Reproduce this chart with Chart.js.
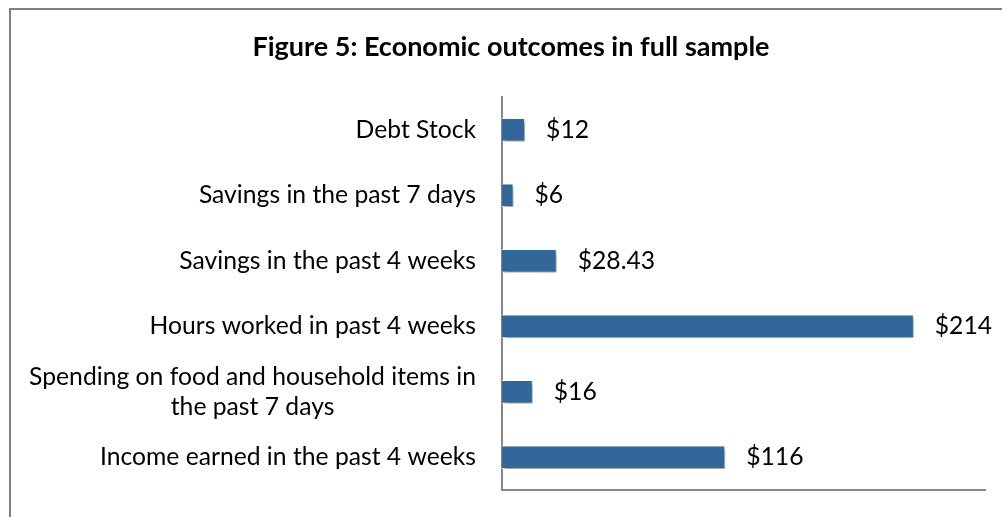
<!DOCTYPE html>
<html>
<head>
<meta charset="utf-8">
<script src="https://cdn.jsdelivr.net/npm/chart.js@4"></script>
<style>
    body { margin: 0; background: #fff; }
    #wrap { position: relative; width: 1002px; height: 517px; overflow: hidden; }
    #frame { position: absolute; left: 9px; top: 8px; width: 1100px; height: 600px;
             border-left: 2px solid #808080; border-top: 2px solid #808080; }
    canvas { position: absolute; left: 0; top: 0; }
</style>
</head>
<body>
<div id="wrap">
    <canvas id="barChart" width="1002" height="517"></canvas>
    <div id="frame"></div>
</div>
<script>
// グラフの値
var categories = [
    "Debt Stock",
    "Savings in the past 7 days",
    "Savings in the past 4 weeks",
    "Hours worked in past 4 weeks",
    ["Spending on food and household items in", "the past 7 days"],
    "Income earned in the past 4 weeks"
];
var values = [12, 6, 28.43, 214, 16, 116];
var valueLabels = ["$12", "$6", "$28.43", "$214", "$16", "$116"];
var titleText = "Figure 5: Economic outcomes in full sample";

var FONT = "Lato, 'Open Sans', sans-serif";
var LABEL_SIZE = 24.7;

// タイトルを描く
var titlePlugin = {
    id: "titlePlugin",
    afterDraw: function (chart) {
        var ctx = chart.ctx;
        ctx.save();
        ctx.fillStyle = "#000";
        ctx.font = "bold 27px " + FONT;
        ctx.textAlign = "center";
        ctx.textBaseline = "middle";
        ctx.fillText(titleText, 511, 47);
        ctx.restore();
    }
};

// カテゴリ名（右寄せ、複数行は中央揃え）
var categoryPlugin = {
    id: "categoryPlugin",
    afterDraw: function (chart) {
        var ctx = chart.ctx;
        var yScale = chart.scales.y;
        var right = chart.chartArea.left - 26;
        var lineHeight = 30;
        ctx.save();
        ctx.fillStyle = "#000";
        ctx.font = LABEL_SIZE + "px " + FONT;
        ctx.textBaseline = "middle";
        ctx.textAlign = "center";
        categories.forEach(function (label, i) {
            var lines = Array.isArray(label) ? label : [label];
            var widest = 0;
            lines.forEach(function (line) {
                widest = Math.max(widest, ctx.measureText(line).width);
            });
            var cx = right - widest / 2;
            var y0 = yScale.getPixelForTick(i) - (lines.length - 1) * lineHeight / 2;
            lines.forEach(function (line, j) {
                ctx.fillText(line, cx, y0 + j * lineHeight);
            });
        });
        ctx.restore();
    }
};

// 値ラベルと棒の影
var valuePlugin = {
    id: "valuePlugin",
    beforeDatasetDraw: function (chart) {
        var ctx = chart.ctx;
        ctx.save();
        ctx.shadowColor = "rgba(0,0,0,0.4)";
        ctx.shadowOffsetX = 2;
        ctx.shadowOffsetY = 3;
        ctx.shadowBlur = 4;
    },
    afterDatasetDraw: function (chart) {
        chart.ctx.restore();
    },
    afterDraw: function (chart) {
        var ctx = chart.ctx;
        var meta = chart.getDatasetMeta(0);
        ctx.save();
        ctx.fillStyle = "#000";
        ctx.font = LABEL_SIZE + "px " + FONT;
        ctx.textAlign = "left";
        ctx.textBaseline = "middle";
        meta.data.forEach(function (bar, i) {
            ctx.fillText(valueLabels[i], bar.x + 21, bar.y);
        });
        ctx.restore();
    }
};

var ctx = document.getElementById("barChart");
var myBarChart = new Chart(ctx, {
    type: "bar",
    data: {
        labels: categories,
        datasets: [
            {
                data: values,
                backgroundColor: "#336699",
                borderColor: "#ffffff",
                borderWidth: 1,
                borderSkipped: "left",
                categoryPercentage: 0.36,
                barPercentage: 1
            }
        ]
    },
    options: {
        indexAxis: "y",
        responsive: false,
        animation: false,
        layout: { padding: { left: 0, right: 17, top: 97, bottom: 27 } },
        plugins: {
            legend: { display: false },
            tooltip: { enabled: false },
            title: { display: false }
        },
        scales: {
            x: {
                min: 0,
                max: 251,
                grid: { display: false, drawTicks: false },
                ticks: { display: false },
                border: { color: "#868686", width: 2 },
                afterFit: function (scale) { scale.height = 0; }
            },
            y: {
                grid: { display: false, drawTicks: false },
                ticks: { display: false },
                border: { color: "#868686", width: 2 },
                afterFit: function (scale) { scale.width = 502; }
            }
        }
    },
    plugins: [titlePlugin, categoryPlugin, valuePlugin]
});
</script>
</body>
</html>
